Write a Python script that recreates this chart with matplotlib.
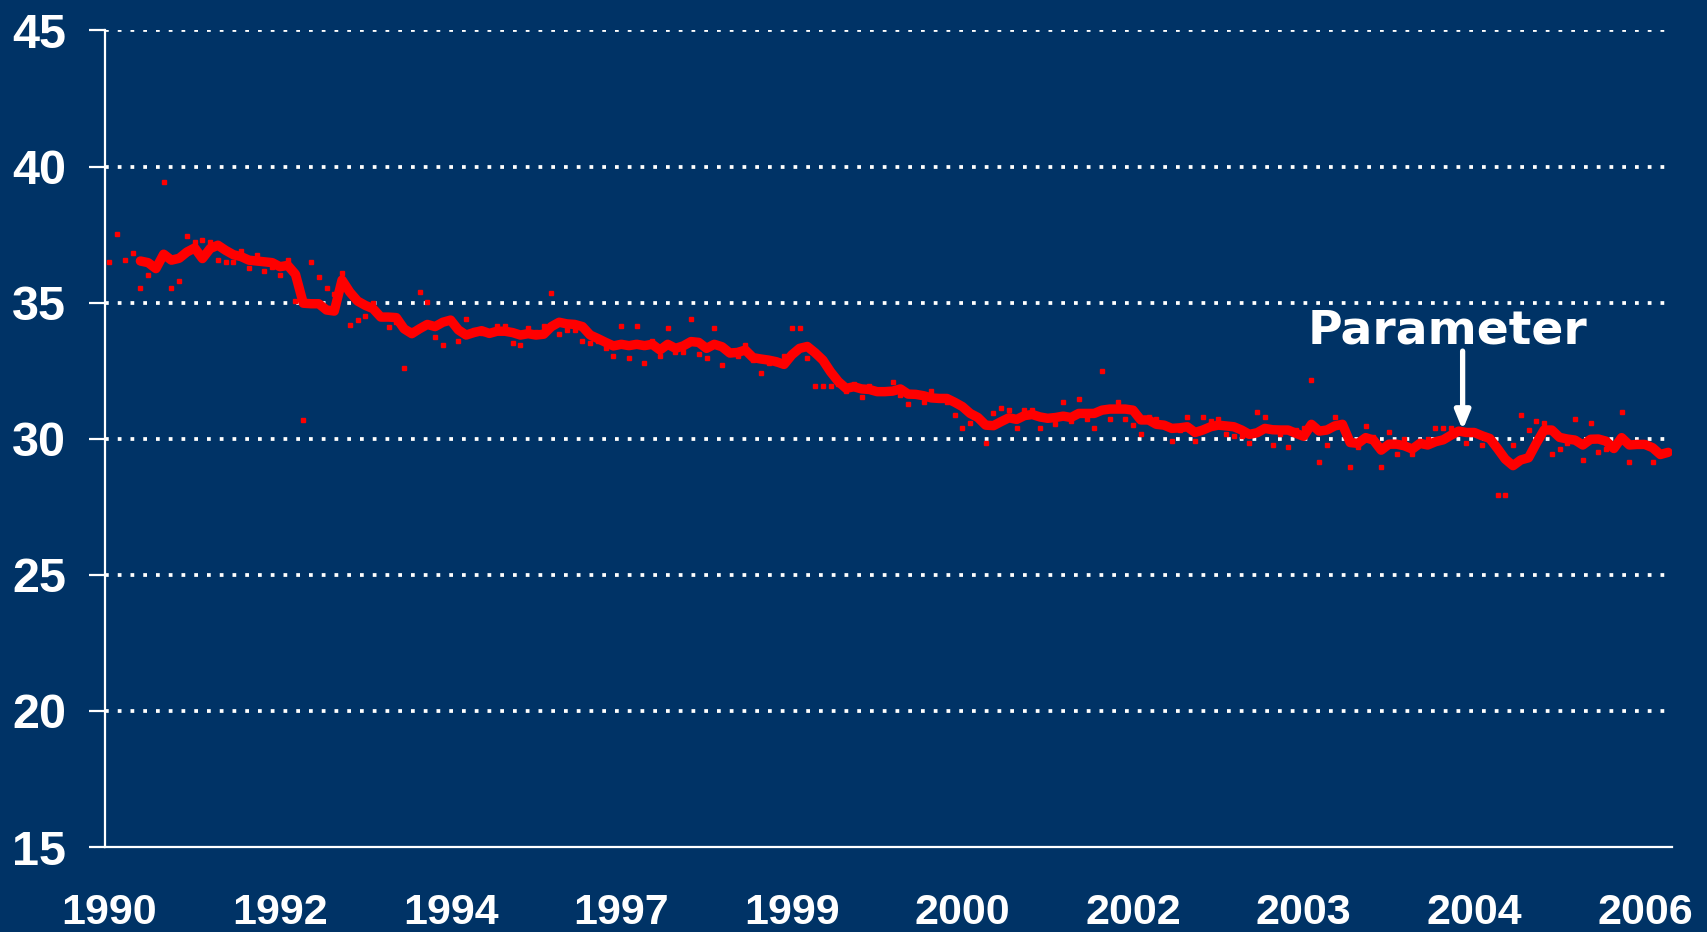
import numpy as np
import matplotlib
matplotlib.use("Agg")
import matplotlib.pyplot as plt
from matplotlib import font_manager

# ── Data ───────────────────────────────────────────────────────────────────
# raw observations (red dots), one per category slot
obs = [
    36.50, 37.54, 36.58, 36.83, 35.54, 36.02, 36.28, 39.45, 35.54, 35.78,
    37.45, 37.22, 37.30, 37.22, 36.58, 36.50, 36.50, 36.90, 36.26, 36.74,
    36.18, 36.30, 36.02, 36.58, 35.06, 30.69, 36.50, 35.94, 35.54, 35.31,
    36.10, 34.19, 34.35, 34.51, 34.99, 34.50, 34.12, 34.30, 32.60, 34.00,
    35.40, 35.02, 33.75, 33.43, 34.40, 33.59, 34.39, 34.00, 33.90, 33.90,
    34.14, 34.14, 33.50, 33.43, 34.07, 33.91, 34.14, 35.34, 33.84, 34.00,
    34.00, 33.59, 33.50, 33.60, 33.35, 33.03, 34.15, 32.95, 34.15, 32.79,
    33.59, 33.03, 34.07, 33.19, 33.19, 34.39, 33.11, 32.95, 34.07, 32.71,
    33.11, 33.03, 33.43, 32.88, 32.40, 32.79, 32.80, 33.04, 34.07, 34.07,
    32.95, 31.92, 31.92, 31.92, 32.00, 31.75, 32.00, 31.52, 31.92, 31.70,
    31.70, 32.07, 31.59, 31.27, 31.60, 31.36, 31.75, 31.50, 31.36, 30.88,
    30.40, 30.56, 30.80, 29.84, 30.96, 31.13, 31.04, 30.40, 31.04, 31.04,
    30.40, 30.80, 30.55, 31.36, 30.64, 31.45, 30.72, 30.40, 32.48, 30.72,
    31.36, 30.72, 30.49, 30.17, 30.80, 30.72, 30.50, 29.93, 30.32, 30.80,
    29.93, 30.80, 30.64, 30.72, 30.17, 30.09, 30.09, 29.84, 30.97, 30.80,
    29.77, 30.17, 29.68, 30.33, 30.40, 32.16, 29.13, 29.77, 30.80, 30.50,
    28.97, 29.68, 30.48, 30.07, 28.97, 30.25, 29.45, 30.00, 29.45, 29.93,
    30.00, 30.40, 30.40, 30.40, 30.30, 29.84, 30.20, 29.77, 30.00, 27.93,
    27.93, 29.77, 30.88, 30.32, 30.64, 30.56, 29.45, 29.61, 29.84, 30.72,
    29.22, 30.56, 29.53, 29.61, 29.70, 30.97, 29.13, 29.80, 29.80, 29.13,
    29.40, 29.50,
]

# moving-average line (thick red), starts at the 5th slot
trend = [np.nan] * 4 + [
    36.53, 36.47, 36.25, 36.78, 36.56, 36.63,
    36.86, 37.01, 36.62, 36.99, 37.11, 36.92, 36.76, 36.69, 36.56, 36.53,
    36.50, 36.47, 36.32, 36.37, 36.04, 34.98, 34.96, 34.96, 34.73, 34.69,
    35.83, 35.39, 35.06, 34.90, 34.78, 34.47, 34.47, 34.45, 34.04, 33.86,
    34.04, 34.20, 34.12, 34.28, 34.36, 34.00, 33.81, 33.90, 33.97, 33.87,
    33.95, 33.95, 33.90, 33.81, 33.86, 33.81, 33.84, 34.12, 34.28, 34.22,
    34.20, 34.12, 33.81, 33.68, 33.54, 33.41, 33.47, 33.42, 33.47, 33.42,
    33.47, 33.26, 33.47, 33.32, 33.41, 33.57, 33.54, 33.32, 33.47, 33.38,
    33.15, 33.17, 33.26, 32.98, 32.93, 32.89, 32.83, 32.73, 33.08, 33.32,
    33.39, 33.16, 32.89, 32.46, 32.10, 31.85, 31.91, 31.83, 31.81, 31.73,
    31.73, 31.75, 31.83, 31.64, 31.63, 31.58, 31.50, 31.48, 31.48, 31.34,
    31.18, 30.93, 30.78, 30.50, 30.48, 30.63, 30.77, 30.71, 30.85, 30.89,
    30.80, 30.75, 30.78, 30.83, 30.78, 30.93, 30.93, 30.93, 31.05, 31.09,
    31.09, 31.09, 31.05, 30.69, 30.69, 30.53, 30.50, 30.38, 30.40, 30.44,
    30.23, 30.32, 30.44, 30.50, 30.47, 30.44, 30.32, 30.16, 30.22, 30.38,
    30.33, 30.32, 30.32, 30.20, 30.09, 30.53, 30.28, 30.32, 30.47, 30.53,
    29.86, 29.83, 30.04, 29.95, 29.58, 29.80, 29.80, 29.74, 29.62, 29.83,
    29.77, 29.89, 29.96, 30.13, 30.28, 30.23, 30.23, 30.11, 30.01, 29.64,
    29.25, 29.01, 29.22, 29.30, 29.83, 30.32, 30.32, 30.05, 29.99, 29.95,
    29.77, 29.98, 29.99, 29.91, 29.64, 30.04, 29.77, 29.79, 29.79, 29.67,
    29.42, 29.50,
]

year_labels = ["1990", "1992", "1994", "1997", "1999",
               "2000", "2002", "2003", "2004", "2006"]
label_every = 22
y_ticks = [15, 20, 25, 30, 35, 40, 45]

# ── Style ───────────────────────────────────────────────────────────────────
BG = "#003366"
RED = "#ff0000"
WHITE = "white"

installed = {f.name for f in font_manager.fontManager.ttflist}
tick_font = "Liberation Sans Narrow" if "Liberation Sans Narrow" in installed else "Liberation Sans"

x = np.arange(len(obs))

fig = plt.figure(figsize=(17.07, 9.32), dpi=100, facecolor=BG)
ax = fig.add_axes([0.0618, 0.0912, 0.9177, 0.8761], facecolor=BG)

# gridlines (dotted white), skip the baseline
for yv in y_ticks[1:]:
    ax.axhline(yv, color=WHITE, lw=2.7, ls=(0, (1, 2.4)), dash_capstyle="butt", zorder=1)

ax.plot(x, obs, ls="none", marker="s", ms=3.0, color=RED, mec=RED, zorder=2)
ax.plot(x, trend, color=RED, lw=6.8, solid_joinstyle="round",
        solid_capstyle="round", zorder=3)

ax.set_xlim(-0.5, len(obs) - 0.5)
ax.set_ylim(15, 45)

ax.set_yticks(y_ticks)
ax.set_yticklabels([str(v) for v in y_ticks])
ax.set_xticks(np.arange(0, len(obs), label_every)[:len(year_labels)])
ax.set_xticklabels(year_labels)

for lab in ax.get_yticklabels():
    lab.set_fontfamily(tick_font)
    lab.set_fontweight("bold")
    lab.set_fontsize(35)
    lab.set_color(WHITE)
for lab in ax.get_xticklabels():
    lab.set_fontfamily(tick_font)
    lab.set_fontweight("bold")
    lab.set_fontsize(31)
    lab.set_color(WHITE)

ax.tick_params(axis="y", length=11.5, width=1.6, color=WHITE, pad=17, direction="out")
ax.tick_params(axis="x", length=0, pad=33)

for side in ("top", "right"):
    ax.spines[side].set_visible(False)
for side in ("left", "bottom"):
    ax.spines[side].set_color(WHITE)
    ax.spines[side].set_linewidth(1.6)

# annotation
ax.annotate("", xy=(174.5, 30.32), xytext=(174.5, 33.22),
            arrowprops=dict(arrowstyle="-|>,head_width=0.45,head_length=1.1",
                            color=WHITE, lw=3.8, shrinkA=0, shrinkB=0),
            zorder=4)
ax.text(172.5, 33.5, "Parameter", color=WHITE, fontsize=34, fontweight="bold",
        family="DejaVu Sans", ha="center", va="baseline", zorder=4)

fig.savefig("out.png", dpi=100, facecolor=BG)
